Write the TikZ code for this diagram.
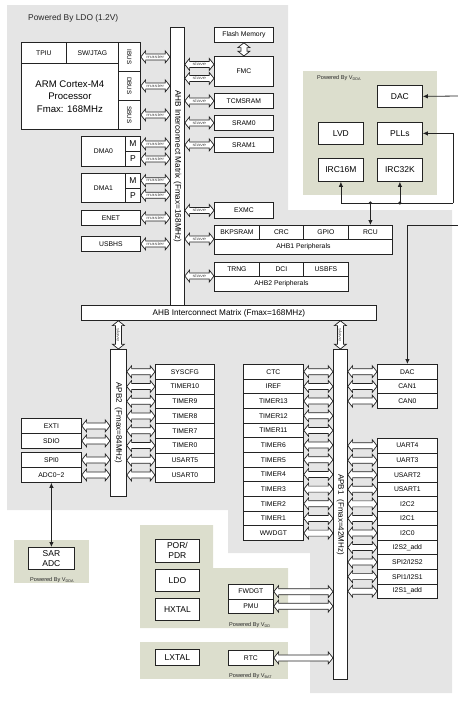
\documentclass[tikz,border=0pt]{standalone}
\usepackage{fontspec}
\setmainfont{Liberation Sans}
\usetikzlibrary{calc,arrows.meta}
\definecolor{ldogray}{RGB}{229,229,229}
\definecolor{pwrgreen}{RGB}{220,222,205}
\definecolor{edge}{RGB}{35,35,35}
\newcommand\fsz[2]{\fontsize{#1}{#2}\selectfont}
\newcommand\vsub[1]{\raisebox{-0.35ex}{\fontsize{3.8}{4}\selectfont #1}}
\newcommand\bx[7][cell]{\node[#1,minimum width=#5pt,minimum height=#6pt] (#2) at ({#3},{#4}) {#7};}
\newcommand\dharrow[3]{%
  \draw[barrow] let \p1=(#1), \p2=(#2) in
   (\x1,\y1) -- ++(4.8pt,6pt) -- ++(0pt,-3pt) -- (\x2-4.8pt,\y1+3pt) -- ++(0pt,3pt) -- (\x2,\y1)
   -- ++(-4.8pt,-6pt) -- ++(0pt,3pt) -- (\x1+4.8pt,\y1-3pt) -- ++(0pt,-3pt) -- cycle
   node[arrlabel] at ({(\x1+\x2)/2},\y1) {\scalebox{1.3}[0.9]{#3}};}
\newcommand\dvarrow[3]{%
  \draw[barrow] let \p1=(#1), \p2=(#2) in
   (\x1,\y1) -- ++(6pt,-4.8pt) -- ++(-3pt,0pt) -- (\x1+3pt,\y2+4.8pt) -- ++(3pt,0pt) -- (\x1,\y2)
   -- ++(-6pt,4.8pt) -- ++(3pt,0pt) -- (\x1-3pt,\y1-4.8pt) -- ++(-3pt,0pt) -- cycle
   node[arrlabel,rotate=-90] at (\x1,{(\y1+\y2)/2}) {\scalebox{1.3}[0.9]{#3}};}
\tikzset{mytip/.tip={Latex[length=5pt,width=4.5pt]}}
\begin{document}
\begin{tikzpicture}[x=1pt,y=-1pt,
 box/.style={draw=edge,line width=0.8pt,fill=white,inner sep=0pt,align=center,anchor=north west},
 cell/.style={box,font=\fsz{6.8}{8}},
 big/.style={box,font=\fsz{8.5}{10}},
 arm/.style={box,font=\fsz{9.6}{12.5}},
 bar/.style={box,font=\fsz{8.2}{9.5}},
 rot/.style={rotate=-90,inner sep=0pt},
 lbl/.style={inner sep=0pt,font=\fsz{5.6}{6.5},text=black!85},
 barrow/.style={draw=edge,line width=0.7pt,fill=white,line join=miter},
 arrlabel/.style={inner sep=0pt,font=\fsz{4.5}{5},text=black!65},
 conn/.style={draw=edge,line width=0.8pt,-mytip}]
\useasboundingbox (0,0) rectangle (458,702);
% backgrounds
\fill[ldogray] (7,5) -- (288,5) -- (288,210) -- (452,210) -- (452,693) -- (310,693) -- (310,553) -- (228,553) -- (228,510) -- (7,510) -- cycle;
\fill[pwrgreen] (303,71) rectangle (437,195);
\fill[pwrgreen] (14,540) rectangle (89,583);
\fill[pwrgreen] (140,525) -- (213,525) -- (213,568) -- (288,568) -- (288,628) -- (140,628) -- cycle;
\fill[pwrgreen] (140,642) rectangle (288,679);
% labels
\node[lbl,anchor=west,font=\fsz{8.4}{9}] (ldolbl) at (28,18) {Powered By LDO (1.2V)};
\node[lbl,anchor=west] (vddalbl) at (317,78) {Powered By V\vsub{DDA}};
\node[lbl] (adclbl) at (52,580) {Powered By V\vsub{DDA}};
\node[lbl,anchor=west] (vddlbl) at (229,625) {Powered By V\vsub{DD}};
\node[lbl,anchor=west] (vbatlbl) at (229,676) {Powered By V\vsub{BAT}};
% ARM core
\bx{tpiu}{21}{42}{45}{21}{TPIU}
\bx{swj}{66}{42}{52}{21}{SW/JTAG}
\bx{ibus}{118}{42}{22}{29}{}
\bx{dbus}{118}{71}{22}{29}{}
\bx{sbus}{118}{100}{22}{29}{}
\node[rot,font=\fsz{6.3}{7}] (ibust) at (ibus.center) {IBUS};
\node[rot,font=\fsz{6.3}{7}] (dbust) at (dbus.center) {DBUS};
\node[rot,font=\fsz{6.3}{7}] (sbust) at (sbus.center) {SBUS};
\bx[arm]{cpu}{21}{63}{97}{66}{ARM Cortex-M4\\Processor\\Fmax: 168MHz}
% DMA etc
\bx{dma0}{81}{136}{44}{30}{DMA0}
\bx[big]{dma0m}{125}{136}{15}{15}{M}
\bx[big]{dma0p}{125}{151}{15}{15}{P}
\bx{dma1}{81}{173}{44}{29}{DMA1}
\bx[big]{dma1m}{125}{173}{15}{14.5}{M}
\bx[big]{dma1p}{125}{187.5}{15}{14.5}{P}
\bx{enet}{81}{210}{59}{15}{ENET}
\bx{usbhs}{81}{236}{59}{15}{USBHS}
% AHB matrix
\bx[bar]{ahbh}{81}{305}{295}{15}{AHB Interconnect Matrix (Fmax=168MHz)}
\bx[bar]{ahbv}{170}{27}{14}{278}{}
\node[rot,font=\fsz{8.2}{9.5}] (ahbvt) at (ahbv.center) {AHB Interconnect Matrix (Fmax=168MHz)};
% slaves
\bx{flash}{214}{27}{59}{15}{Flash Memory}
\bx{fmc}{214}{56}{59}{30}{FMC}
\bx{tcm}{214}{93}{59}{15}{TCMSRAM}
\bx{sram0}{214}{115}{59}{15}{SRAM0}
\bx{sram1}{214}{137}{59}{15}{SRAM1}
\bx{exmc}{214}{202}{59}{16}{EXMC}
\bx{bkp}{214}{225}{45}{14}{BKPSRAM}
\bx{crc}{259}{225}{44}{14}{CRC}
\bx{gpio}{303}{225}{45}{14}{GPIO}
\bx{rcu}{348}{225}{44}{14}{RCU}
\bx{ahbone}{214}{239}{178}{15}{AHB1 Peripherals}
\bx{trng}{214}{262}{45}{14}{TRNG}
\bx{dci}{259}{262}{44}{14}{DCI}
\bx{usbfs}{303}{262}{45}{14}{USBFS}
\bx{ahbtwo}{214}{276}{134}{15}{AHB2 Peripherals}
% master arrows
\dharrow{ibus.east}{ahbv.west}{master}
\dharrow{dbus.east}{ahbv.west}{master}
\dharrow{sbus.east}{ahbv.west}{master}
\dharrow{dma0m.east}{ahbv.west}{master}
\dharrow{dma0p.east}{ahbv.west}{master}
\dharrow{dma1m.east}{ahbv.west}{master}
\dharrow{dma1p.east}{ahbv.west}{master}
\dharrow{enet.east}{ahbv.west}{master}
\dharrow{usbhs.east}{ahbv.west}{master}
% slave arrows
\coordinate (fmcs1) at ($(ahbv.east |- fmc.west)+(0pt,7pt)$);
\coordinate (fmcs2) at ($(ahbv.east |- fmc.west)+(0pt,-7pt)$);
\dharrow{fmcs1}{fmc.west}{slave}
\dharrow{fmcs2}{fmc.west}{slave}
\dharrow{ahbv.east |- tcm.west}{tcm.west}{slave}
\dharrow{ahbv.east |- sram0.west}{sram0.west}{slave}
\dharrow{ahbv.east |- sram1.west}{sram1.west}{slave}
\dharrow{ahbv.east |- exmc.west}{exmc.west}{slave}
\dharrow{ahbv.east |- ahbone.north west}{bkp.west}{slave}
\dharrow{ahbv.east |- ahbtwo.north west}{trng.west}{slave}
\dvarrow{flash.south}{fmc.north}{}
% VDDA domain
\bx[big]{vdac}{377}{85}{45}{22}{DAC}
\bx[big]{lvd}{318}{122}{45}{22}{LVD}
\bx[big]{plls}{377}{122}{45}{22}{PLLs}
\bx[big]{irc16}{318}{158}{45}{23}{IRC16M}
\bx[big]{irc32}{377}{158}{45}{23}{IRC32K}
\coordinate (dacin) at (458,96);
\draw[conn] (dacin) -- (vdac.east);
\coordinate (bus) at (453,203);
\draw[conn] (bus) |- (plls.east);
\draw[conn] (bus) -| (irc16.south);
\coordinate (j2) at (irc32.south |- bus);
\coordinate (j1) at (rcu.north |- bus);
\draw[conn] (j2) -- (irc32.south);
\draw[conn] (j1) -- (rcu.north);
\fill[edge] (j1) circle (1.7pt) (j2) circle (1.7pt);
% APB2
\bx[bar]{apbtwo}{110}{349}{16}{147}{}
\node[rot,font=\fsz{8}{9}] (apbtwot) at (apbtwo.center) {APB2\hspace{5pt}(Fmax=84MHz)};
\dvarrow{ahbh.south -| apbtwo.north}{apbtwo.north}{slave}
\foreach \lab [count=\i] in {SYSCFG,TIMER10,TIMER9,TIMER8,TIMER7,TIMER0,USART5,USART0}{
  \bx{ptwo\i}{155}{364+(\i-1)*14.75}{59}{14.75}{\lab}
  \dharrow{apbtwo.east |- ptwo\i.west}{ptwo\i.west}{}
}
\bx{exti}{21}{418}{60}{15}{EXTI}
\bx{sdio}{21}{433}{60}{15}{SDIO}
\bx{spi0}{21}{452}{60}{15}{SPI0}
\bx{adc}{21}{467}{60}{15}{ADC0−2}
\dharrow{exti.east}{apbtwo.west}{}
\dharrow{sdio.east}{apbtwo.west}{}
\dharrow{spi0.east}{apbtwo.west}{}
\dharrow{adc.east}{apbtwo.west}{}
% APB1
\bx[bar]{apbone}{333}{349}{14}{330}{}
\node[rot,font=\fsz{8}{9}] (apbonet) at (apbone.center) {APB1\hspace{5pt}(Fmax=42MHz)};
\dvarrow{ahbh.south -| apbone.north}{apbone.north}{slave}
\foreach \lab [count=\i] in {CTC,IREF,TIMER13,TIMER12,TIMER11,TIMER6,TIMER5,TIMER4,TIMER3,TIMER2,TIMER1,WWDGT}{
  \bx{pone\i}{243}{364+(\i-1)*14.67}{60}{14.67}{\lab}
  \dharrow{pone\i.east}{apbone.west}{}
}
\foreach \lab [count=\i] in {DAC,CAN1,CAN0}{
  \bx{qone\i}{377}{364+(\i-1)*14.67}{60}{14.67}{\lab}
  \dharrow{apbone.east |- qone\i.west}{qone\i.west}{}
}
\foreach \lab [count=\i] in {UART4,UART3,USART2,USART1,I2C2,I2C1,I2C0,I2S2\_add,SPI2/I2S2,SPI1/I2S1,I2S1\_add}{
  \bx{rone\i}{377}{438+(\i-1)*14.55}{60}{14.55}{\lab}
  \dharrow{apbone.east |- rone\i.west}{rone\i.west}{}
}
\coordinate (dacl) at (458,225);
\draw[conn] (dacl) -| (qone1.north);
% bottom domains
\bx[big]{por}{155}{539}{44}{23}{POR/\\PDR}
\bx[big]{ldo}{155}{569}{44}{22}{LDO}
\bx[big]{hxtal}{155}{598}{44}{22}{HXTAL}
\bx[big]{lxtal}{155}{649}{44}{16}{LXTAL}
\bx{fwdgt}{228}{584}{45}{14.5}{FWDGT}
\bx{pmu}{228}{598.5}{45}{14.5}{PMU}
\bx{rtc}{228}{650}{45}{15}{RTC}
\dharrow{fwdgt.east}{apbone.west}{}
\dharrow{pmu.east}{apbone.west}{}
\dharrow{rtc.east}{apbone.west}{}
\bx[big]{sar}{28}{547}{46}{22}{SAR\\ADC}
\draw[conn,mytip-mytip] (adc.south) -- (sar.north);
\end{tikzpicture}
\end{document}
